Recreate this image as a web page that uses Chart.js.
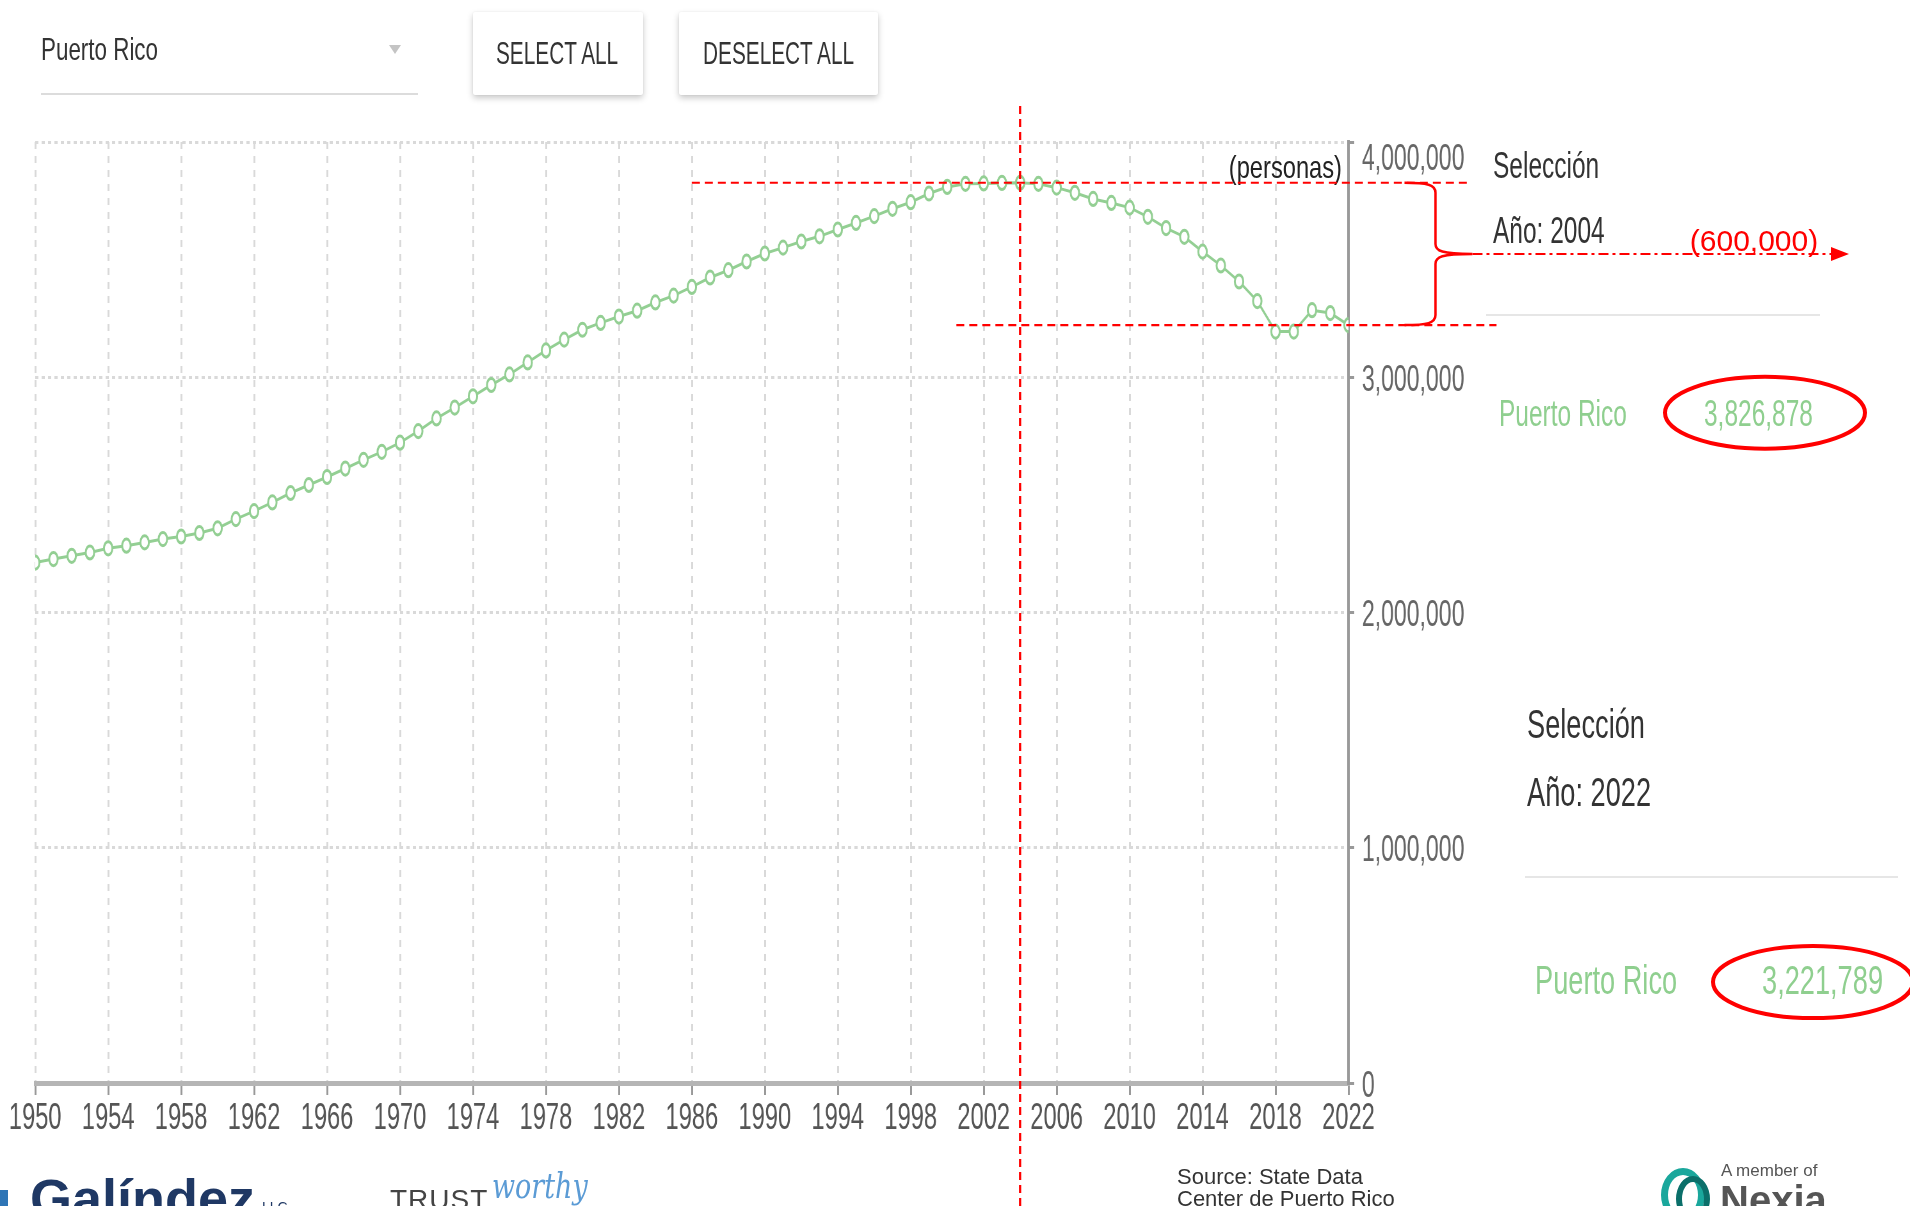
<!DOCTYPE html>
<html lang="es">
<head>
<meta charset="UTF-8">
<title>Población de Puerto Rico</title>
<script src="https://cdn.jsdelivr.net/npm/chart.js"></script>
<style>
    body {
        margin: 0;
        width: 1910px;
        height: 1206px;
        overflow: hidden;
        background: #fff;
        position: relative;
        font-family: 'Liberation Sans', Arial, sans-serif;
    }
    #chart {
        position: absolute;
        left: 0;
        top: 0;
        transform: scaleX(0.64);
        transform-origin: 0 0;
        z-index: 1;
    }
    #overlay {
        position: absolute;
        left: 0;
        top: 0;
        z-index: 3;
        pointer-events: none;
    }
    .txt {
        position: absolute;
        white-space: nowrap;
        line-height: 1;
        transform-origin: 0 50%;
        z-index: 2;
    }
    .panel { font-size: 36px; color: #333; transform: scaleX(0.68); }
    .panel.big { font-size: 40px; }
    .green { color: #8fcf8f; }
    .btn {
        position: absolute;
        top: 12px;
        height: 83px;
        background: #fff;
        box-shadow: 0 3px 6px rgba(0,0,0,0.22), 0 0 2px rgba(0,0,0,0.08);
        border-radius: 2px;
        z-index: 2;
    }
    .btn-txt { font-size: 32px; color: #333; transform: scaleX(0.65); top: 37px; }
    .sep { position: absolute; height: 2px; background: #e6e6e6; z-index: 2; }
</style>
</head>
<body>
    <!-- controles de arriba -->
    <div class="txt" style="left:41px; top:33px; font-size:32px; color:#333; transform:scaleX(0.70);">Puerto Rico</div>
    <div style="position:absolute; left:389px; top:45px; width:0; height:0; border-left:6px solid transparent; border-right:6px solid transparent; border-top:9px solid #c4c4c4;"></div>
    <div class="sep" style="left:41px; top:93px; width:377px; background:#dcdcdc;"></div>
    <div class="btn" style="left:473px; width:170px;"></div>
    <div class="btn" style="left:679px; width:199px;"></div>
    <div class="txt btn-txt" style="left:496px;">SELECT ALL</div>
    <div class="txt btn-txt" style="left:703px;">DESELECT ALL</div>

    <canvas id="chart" width="2985" height="1206"></canvas>
    <canvas id="overlay" width="1910" height="1206"></canvas>

    <div class="txt" style="right:568px; top:151px; font-size:32px; color:#222; transform:scaleX(0.74); transform-origin:100% 50%;">(personas)</div>

    <!-- panel de selección 2004 -->
    <div class="txt panel" style="left:1493px; top:148px;">Selección</div>
    <div class="txt panel" style="left:1493px; top:213px;">Año: 2004</div>
    <div class="sep" style="left:1486px; top:314px; width:334px;"></div>
    <div class="txt panel green" style="left:1499px; top:396px;">Puerto Rico</div>
    <div class="txt panel green" style="left:1704px; top:396px;">3,826,878</div>

    <!-- panel de selección 2022 -->
    <div class="txt panel big" style="left:1527px; top:704px;">Selección</div>
    <div class="txt panel big" style="left:1527px; top:772px;">Año: 2022</div>
    <div class="sep" style="left:1525px; top:876px; width:373px;"></div>
    <div class="txt panel big green" style="left:1535px; top:960px;">Puerto Rico</div>
    <div class="txt panel big green" style="left:1762px; top:960px;">3,221,789</div>

    <!-- pie -->
    <div style="position:absolute; left:0; top:1190px; width:8px; height:16px; background:#2e75b6;"></div>
    <div class="txt" style="left:30px; top:1171px; font-size:54px; font-weight:bold; color:#1f3864;">Galíndez</div>
    <div class="txt" style="left:262px; top:1200px; font-size:14px; color:#1f3864;">LLC</div>
    <div class="txt" style="left:390px; top:1186px; font-size:28px; color:#444; letter-spacing:1px;">TRUST</div>
    <div class="txt" style="left:492px; top:1168px; font-size:36px; font-style:italic; font-family:'DejaVu Serif', serif; color:#5b9bd5; transform:scaleX(0.75);">worthy</div>
    <div class="txt" style="left:1177px; top:1166px; font-size:22px; color:#333; line-height:22px;">Source: State Data<br>Center de Puerto Rico</div>
    <div style="position:absolute; left:1661px; top:1168px; width:30px; height:40px; border:7px solid #1aa79c; border-radius:50%; z-index:2;"></div>
    <div style="position:absolute; left:1676px; top:1176px; width:22px; height:34px; border:6px solid #0b6f6a; border-radius:50%; z-index:2;"></div>
    <div class="txt" style="left:1721px; top:1162px; font-size:17px; color:#555;">A member of</div>
    <div class="txt" style="left:1720px; top:1180px; font-size:40px; font-weight:bold; color:#555;">Nexia</div>

<script>
    // Población de Puerto Rico (personas)
    const years = [1950, 1951, 1952, 1953, 1954, 1955, 1956, 1957, 1958, 1959,
                   1960, 1961, 1962, 1963, 1964, 1965, 1966, 1967, 1968, 1969,
                   1970, 1971, 1972, 1973, 1974, 1975, 1976, 1977, 1978, 1979,
                   1980, 1981, 1982, 1983, 1984, 1985, 1986, 1987, 1988, 1989,
                   1990, 1991, 1992, 1993, 1994, 1995, 1996, 1997, 1998, 1999,
                   2000, 2001, 2002, 2003, 2004, 2005, 2006, 2007, 2008, 2009,
                   2010, 2011, 2012, 2013, 2014, 2015, 2016, 2017, 2018, 2019,
                   2020, 2021, 2022];
    const population = [2212000, 2227000, 2241000, 2255000, 2273000, 2284000, 2298000, 2312000, 2323000, 2338000,
                        2358000, 2397000, 2431000, 2468000, 2508000, 2542000, 2576000, 2612000, 2649000, 2683000,
                        2722000, 2771000, 2825000, 2871000, 2919000, 2967000, 3012000, 3063000, 3114000, 3160000,
                        3202000, 3231000, 3258000, 3283000, 3318000, 3347000, 3384000, 3424000, 3455000, 3492000,
                        3526000, 3551000, 3577000, 3599000, 3628000, 3656000, 3685000, 3716000, 3744000, 3781000,
                        3809000, 3822000, 3824000, 3826000, 3826878, 3822000, 3806000, 3784000, 3758000, 3741000,
                        3721000, 3682000, 3634000, 3597000, 3534000, 3475000, 3407000, 3324000, 3194000, 3194000,
                        3285000, 3273000, 3221789];
    const yTicks = [0, 1000000, 2000000, 3000000, 4000000];
    const selYears = [2004, 2022];
    const selValues = [3826878, 3221789];
    const diffLabel = '(600,000)';

    const SQUEEZE = 0.64;   // the screenshot is squeezed sideways
    const GREEN = '#93cf93';
    const RED = '#ff0000';

    const points = years.map((y, i) => ({ x: y, y: population[i] }));

    // red marks drawn on a plain canvas on top, placed with the chart's scales
    const annotate = {
        id: 'annotate',
        afterDraw(chart) {
            const xs = chart.scales.x, ys = chart.scales.y;
            const X = v => xs.getPixelForValue(v) * SQUEEZE;
            const Y = v => ys.getPixelForValue(v);
            const ctx = document.getElementById('overlay').getContext('2d');
            ctx.clearRect(0, 0, 1910, 1206);
            ctx.strokeStyle = RED;
            ctx.fillStyle = RED;

            const yTop = Y(selValues[0]);
            const yBot = Y(selValues[1]);
            const axisX = X(years[years.length - 1]);

            // dashed guides
            ctx.lineWidth = 2.2;
            ctx.setLineDash([8, 5]);
            ctx.beginPath();
            ctx.moveTo(X(1986), yTop); ctx.lineTo(axisX + 120, yTop);
            ctx.moveTo(X(2000.5), yBot); ctx.lineTo(axisX + 148, yBot);
            ctx.moveTo(X(selYears[0]), 106); ctx.lineTo(X(selYears[0]), 1206);
            ctx.stroke();
            ctx.setLineDash([]);

            // brace
            const bx = axisX + 87, tip = axisX + 56, mid = (yTop + yBot) / 2, point = axisX + 124;
            ctx.lineWidth = 2.5;
            ctx.beginPath();
            ctx.moveTo(tip, yTop);
            ctx.bezierCurveTo(bx - 8, yTop, bx, yTop + 2, bx, yTop + 10);
            ctx.lineTo(bx, mid - 10);
            ctx.bezierCurveTo(bx, mid - 3, bx + 6, mid, point, mid);
            ctx.moveTo(point, mid);
            ctx.bezierCurveTo(bx + 6, mid, bx, mid + 3, bx, mid + 10);
            ctx.lineTo(bx, yBot - 10);
            ctx.bezierCurveTo(bx, yBot - 2, bx - 8, yBot, tip, yBot);
            ctx.stroke();

            // dash-dot arrow
            ctx.lineWidth = 2;
            ctx.setLineDash([10, 4, 3, 4]);
            ctx.beginPath();
            ctx.moveTo(point, mid); ctx.lineTo(1834, mid);
            ctx.stroke();
            ctx.setLineDash([]);
            ctx.beginPath();
            ctx.moveTo(1831, mid - 7); ctx.lineTo(1849, mid); ctx.lineTo(1831, mid + 7);
            ctx.closePath();
            ctx.fill();

            ctx.font = '30px "Liberation Sans", Arial, sans-serif';
            ctx.textAlign = 'center';
            ctx.textBaseline = 'alphabetic';
            ctx.fillText(diffLabel, 1754, mid - 3);

            // ellipses round the two values
            ctx.lineWidth = 4;
            ctx.beginPath();
            ctx.ellipse(1765, Y(selValues[0]) + 230, 100, 36, 0, 0, Math.PI * 2);
            ctx.stroke();
            ctx.beginPath();
            ctx.ellipse(1813, Y(selValues[1]) + 657, 100, 36, 0, 0, Math.PI * 2);
            ctx.stroke();
        }
    };

    const ctx = document.getElementById('chart').getContext('2d');
    new Chart(ctx, {
        type: 'line',
        data: {
            datasets: [{
                label: 'Puerto Rico',
                data: points,
                borderColor: GREEN,
                borderWidth: 3,
                backgroundColor: '#fff',
                pointBackgroundColor: '#fff',
                pointBorderColor: GREEN,
                pointBorderWidth: 3,
                pointRadius: 6.6,
                tension: 0
            }]
        },
        options: {
            responsive: false,
            animation: false,
            layout: { padding: { left: 55, top: 142, right: 0, bottom: 0 } },
            plugins: {
                legend: { display: false },
                tooltip: { enabled: false }
            },
            scales: {
                x: {
                    type: 'linear',
                    min: 1950,
                    max: 2022,
                    afterFit: s => { s.height = 123; },
                    afterBuildTicks: s => { s.ticks = years.filter(y => (y - 1950) % 4 === 0).map(v => ({ value: v })); },
                    grid: { color: '#d9d9d9', lineWidth: 3, tickLength: 12, tickColor: '#999', tickWidth: 3 },
                    border: { color: '#b5b5b5', width: 5, dash: [7, 7] },
                    ticks: {
                        autoSkip: false,
                        maxRotation: 0,
                        padding: 1.5,
                        color: '#555',
                        font: { family: "'Liberation Sans', Arial, sans-serif", size: 37 },
                        callback: v => String(v)
                    }
                },
                y: {
                    position: 'right',
                    min: 0,
                    max: 4000000,
                    afterFit: s => { s.width = 878; },
                    afterBuildTicks: s => { s.ticks = yTicks.map(v => ({ value: v })); },
                    grid: { color: '#d9d9d9', lineWidth: 3, tickLength: 9, tickColor: '#999', tickWidth: 3 },
                    border: { color: '#999', width: 4, dash: [5, 5] },
                    ticks: {
                        padding: 12,
                        color: '#666',
                        // the top label sits lower than its line, the others a touch lower too
                        font: c => ({
                            family: "'Liberation Sans', Arial, sans-serif",
                            size: 36,
                            lineHeight: (c.tick && c.tick.value === 4000000) ? '37px' : '7.5px'
                        }),
                        callback: v => ['', v.toLocaleString('en-US')]
                    }
                }
            }
        },
        plugins: [annotate]
    });
</script>
</body>
</html>
